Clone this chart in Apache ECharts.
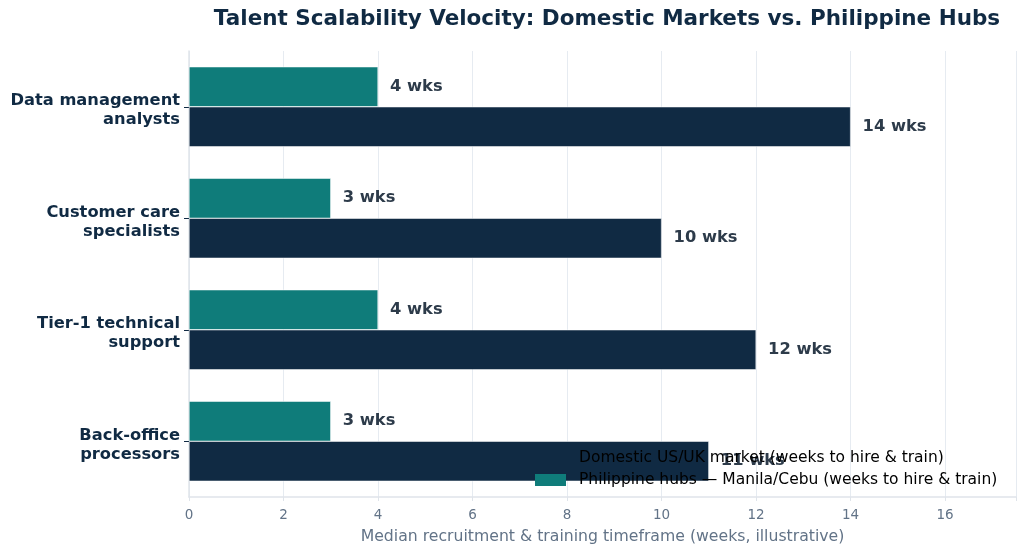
<!DOCTYPE html>
<html>
<head>
<meta charset="utf-8">
<script src="https://cdn.jsdelivr.net/npm/echarts@6/dist/echarts.min.js"></script>
<style>html,body{margin:0;padding:0;background:#fff}#c{width:1024px;height:555px}</style>
</head>
<body>
<div id="c"></div>
<script>
const categories = ["Data management\nanalysts", "Customer care\nspecialists", "Tier-1 technical\nsupport", "Back-office\nprocessors"];
const domestic = [14, 10, 12, 11];
const philippine = [4, 3, 4, 3];
const xTicks = [0, 2, 4, 6, 8, 10, 12, 14, 16];
const seriesNames = ["Domestic US/UK market (weeks to hire & train)", "Philippine hubs — Manila/Cebu (weeks to hire & train)"];

const chart = echarts.init(document.getElementById('c'));
const font = 'DejaVu Sans';
const labelStyle = {
  show: true, position: 'right', distance: 12,
  formatter: p => p.value + ' wks',
  fontFamily: font, fontSize: 16.3, fontWeight: 'bold', color: '#2d3b4a'
};
chart.setOption({
  animation: false,
  textStyle: { fontFamily: font },
  title: {
    text: 'Talent Scalability Velocity: Domestic Markets vs. Philippine Hubs',
    left: 602, top: 3, textAlign: 'center',
    textStyle: { fontFamily: font, fontSize: 21.5, fontWeight: 'bold', color: '#102a43' }
  },
  legend: {
    orient: 'vertical', left: 530, top: 445, itemWidth: 31, itemHeight: 12, itemGap: 6,
    textStyle: { fontFamily: font, fontSize: 15.5, color: '#000', padding: [0, 0, 0, 8] },
    itemStyle: { borderWidth: 0 },
    data: seriesNames, z: 20,
    icon: 'rect'
  },
  grid: { left: 189, right: 8, top: 51, bottom: 58, containLabel: false },
  xAxis: {
    type: 'value', min: 0, max: 17.5, interval: 2,
    name: 'Median recruitment & training timeframe (weeks, illustrative)',
    nameLocation: 'middle', nameGap: 32,
    nameTextStyle: { fontFamily: font, fontSize: 15.7, color: '#627387' },
    axisLine: { show: true, lineStyle: { color: '#dfe4ea', width: 1.5 } },
    axisTick: { show: true, length: 4, lineStyle: { color: '#dfe4ea' } },
    axisLabel: { fontFamily: font, fontSize: 13.5, color: '#627387', margin: 11,
      formatter: v => xTicks.includes(v) ? String(v) : '' },
    splitLine: { show: true, lineStyle: { color: '#e6ebf1', width: 1 } }
  },
  yAxis: {
    type: 'category', data: categories, inverse: true,
    axisLine: { show: true, lineStyle: { color: '#dfe4ea', width: 1.5 } },
    axisTick: { show: true, alignWithLabel: true, length: 5, lineStyle: { color: '#102a43' } },
    axisLabel: {
      margin: 9,
      formatter: v => '{s|}\n' + v.split('\n').map(s => '{a|' + s + '}').join('\n'),
      rich: {
        s: { fontSize: 1, lineHeight: 8 },
        a: { fontFamily: font, fontSize: 16.3, fontWeight: 'bold', color: '#102a43', lineHeight: 19 }
      }
    },
    splitLine: { show: false }
  },
  series: [
    { name: seriesNames[1], type: 'bar', data: philippine, barWidth: 40, barGap: '0%',
      itemStyle: { color: '#0f7c7a', borderColor: '#ffffff', borderWidth: 0.5 }, label: labelStyle, z: 2 },
    { name: seriesNames[0], type: 'bar', data: domestic, barWidth: 40, barGap: '0%',
      itemStyle: { color: '#102a43', borderColor: '#ffffff', borderWidth: 0.5 }, label: labelStyle, z: 2 }
  ]
});
</script>
</body>
</html>
